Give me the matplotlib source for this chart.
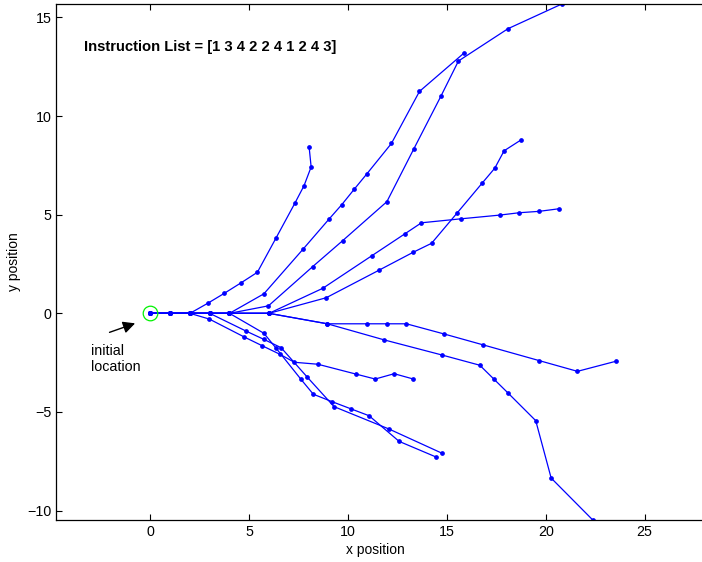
import matplotlib
matplotlib.use('Agg')
import matplotlib.pyplot as plt

plt.rcParams['font.family'] = ['Liberation Sans', 'DejaVu Sans']
plt.rcParams['font.size'] = 10

# paths, all start at the origin
path1_x = [0, 1, 2, 2.90, 3.73, 4.59, 5.41, 6.36, 7.30, 7.77, 8.13, 8.03]
path1_y = [0, 0, 0, 0.51, 1.01, 1.55, 2.08, 3.83, 5.57, 6.47, 7.42, 8.41]

path2_x = [0, 1, 2, 3, 4, 5.74, 7.71, 9.02, 9.68, 10.30, 10.94, 12.19, 13.61, 15.88]
path2_y = [0, 0, 0, 0, 0, 0.99, 3.24, 4.76, 5.51, 6.28, 7.06, 8.61, 11.25, 13.21]

path3_x = [0, 1, 2, 3, 4, 5.97, 8.21, 9.72, 11.96, 13.32, 14.69, 15.58, 18.09, 20.81]
path3_y = [0, 0, 0, 0, 0, 0.38, 2.37, 3.68, 5.66, 8.33, 11.00, 12.79, 14.43, 15.68]

path4_x = [0, 1, 2, 3, 4, 6, 8.72, 11.20, 12.87, 13.71, 15.69, 17.67, 18.66, 19.66, 20.66]
path4_y = [0, 0, 0, 0, 0, 0, 1.27, 2.92, 4.03, 4.59, 4.79, 4.98, 5.10, 5.17, 5.30]

path5_x = [0, 1, 2, 3, 4, 6, 8.89, 11.55, 13.30, 14.22, 15.50, 16.78, 17.42, 17.89, 18.73]
path5_y = [0, 0, 0, 0, 0, 0, 0.79, 2.18, 3.10, 3.55, 5.07, 6.60, 7.36, 8.24, 8.78]

path6_x = [0, 1, 2, 3, 4, 6, 8.95, 10.94, 11.96, 12.95, 14.87, 16.80, 19.68, 21.60, 23.54]
path6_y = [0, 0, 0, 0, 0, 0, -0.53, -0.53, -0.53, -0.53, -1.05, -1.59, -2.40, -2.94, -2.43]

path7_x = [0, 1, 2, 3, 4, 6, 8.95, 11.84, 14.74, 16.66, 17.37, 18.08, 19.49, 20.27, 22.38]
path7_y = [0, 0, 0, 0, 0, 0, -0.53, -1.35, -2.11, -2.63, -3.33, -4.03, -5.44, -8.35, -10.48]

path8_x = [0, 1, 2, 2.98, 4.75, 5.65, 6.56, 7.28, 8.47, 10.40, 11.37, 12.33, 13.30]
path8_y = [0, 0, 0, -0.29, -1.20, -1.64, -2.08, -2.48, -2.58, -3.08, -3.33, -3.06, -3.33]

path9_x = [0, 1, 2, 3, 4.84, 5.74, 6.61, 7.94, 9.29, 12.06, 14.77]
path9_y = [0, 0, 0, 0, -0.90, -1.32, -1.74, -3.24, -4.73, -5.86, -7.10]

path10_x = [0, 1, 2, 3, 4, 5.74, 6.36, 7.62, 8.24, 9.17, 10.14, 11.06, 12.58, 14.42]
path10_y = [0, 0, 0, 0, 0, -1.01, -1.77, -3.35, -4.10, -4.47, -4.84, -5.19, -6.49, -7.27]

paths = [(path1_x, path1_y), (path2_x, path2_y), (path3_x, path3_y),
         (path4_x, path4_y), (path5_x, path5_y), (path6_x, path6_y),
         (path7_x, path7_y), (path8_x, path8_y), (path9_x, path9_y),
         (path10_x, path10_y)]

instructions = [1, 3, 4, 2, 2, 4, 1, 2, 4, 3]

fig = plt.figure(figsize=(7.02, 5.62), dpi=100)
# axes box runs a little past the right edge of the image, as in the reference
ax = fig.add_axes([55.7 / 702, 42.3 / 562, 656.2 / 702, 515.7 / 562])

for px, py in paths:
    ax.plot(px, py, '-', color='b', lw=0.9, marker='o', ms=2.4, mec='b', mfc='b')

ax.plot(0, 0, 'o', mfc='none', mec=(0, 0.95, 0), ms=10.5, mew=0.9)

ax.annotate('', xy=(-0.64, -0.46), xytext=(-2.2, -1.01),
            arrowprops=dict(arrowstyle='-|>', color='k', lw=1.0, mutation_scale=18))
ax.text(-3.02, -2.32, 'initial\nlocation', ha='left', va='center', fontsize=10.3)

ax.text(-3.34, 13.51, 'Instruction List = [' + ' '.join(str(i) for i in instructions) + ']',
        fontweight='bold', ha='left', va='center', fontsize=10.6)

ax.set_xlim(-4.79, 28.40)
ax.set_ylim(-10.46, 15.68)
ax.set_xticks([0, 5, 10, 15, 20, 25])
ax.set_yticks([-10, -5, 0, 5, 10, 15])
ax.tick_params(direction='in', top=True, right=True, length=4.3, width=0.8, pad=4,
               labelsize=10.3)
ax.tick_params(axis='y', pad=3)
for sp in ax.spines.values():
    sp.set_linewidth(0.9)

ax.set_xlabel('x position', va='center')
ax.xaxis.set_label_coords(0.4866, -0.0588)
ax.set_ylabel('y position', va='center')
ax.yaxis.set_label_coords(-0.0636, 0.5)

fig.savefig('out.png', dpi=100)
